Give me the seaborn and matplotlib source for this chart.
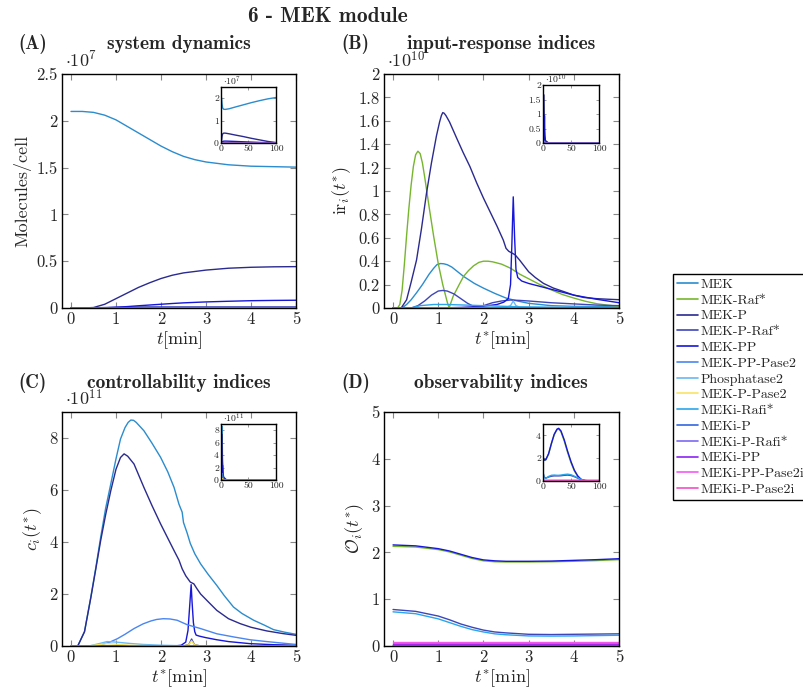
import os
import matplotlib
matplotlib.use("Agg")
import matplotlib.pyplot as plt
import pandas as pd
import seaborn as sns
from matplotlib.lines import Line2D
from matplotlib.ticker import FuncFormatter
from matplotlib.font_manager import FontProperties

# ---------------------------------------------------------------- species
species = ["MEK", "MEK-Raf*", "MEK-P", "MEK-P-Raf*", "MEK-PP", "MEK-PP-Pase2",
           "Phosphatase2", "MEK-P-Pase2", "MEKi-Rafi*", "MEKi-P", "MEKi-P-Rafi*",
           "MEKi-PP", "MEKi-PP-Pase2i", "MEKi-P-Pase2i"]
colors = ["#2b8cce", "#77b52e", "#2a2a8f", "#3d46b8", "#1717d9", "#4a86f0",
          "#6ab8f2", "#f7e463", "#2aa5ea", "#3366dd", "#7a6af0",
          "#8b22f2", "#f55af5", "#f24fc4"]

# series that stay at zero over a window
flat_t = [0, 5]
flat_zero = [0.0, 0.0]
inset_flat_t = [0, 100]
tail_t = [10, 100]
tail_zero = [0.0, 0.0]

# ------------------------------------------- (A) system dynamics, x 1e7
a_t = [0, 0.25, 0.5, 0.75, 1, 1.25, 1.5, 1.75, 2, 2.25, 2.5, 2.75, 3, 3.5, 4, 4.5, 5]
a_mek = [2.10, 2.10, 2.09, 2.06, 2.01, 1.94, 1.87, 1.80, 1.73, 1.67, 1.62, 1.585,
         1.56, 1.53, 1.515, 1.51, 1.505]
a_mek_p = [0, 0, 0.005, 0.04, 0.10, 0.16, 0.22, 0.27, 0.315, 0.35, 0.375, 0.39,
           0.405, 0.425, 0.435, 0.44, 0.442]
a_mek_pp = [0, 0, 0, 0.002, 0.008, 0.015, 0.024, 0.032, 0.04, 0.048, 0.055, 0.06,
            0.065, 0.072, 0.078, 0.081, 0.083]
a_mek_p_raf = [0, 0, 0.002, 0.005, 0.008, 0.010, 0.011, 0.012, 0.012, 0.012, 0.012,
               0.012, 0.012, 0.012, 0.012, 0.012, 0.012]

ai_t = [0, 1, 2, 3, 5, 8, 15, 25, 40, 55, 70, 85, 100]
ai_mek = [2.10, 2.01, 1.73, 1.56, 1.505, 1.50, 1.53, 1.60, 1.70, 1.80, 1.89, 1.97, 2.03]
ai_mek_p = [0, 0.10, 0.315, 0.405, 0.442, 0.44, 0.41, 0.36, 0.29, 0.21, 0.14, 0.07, 0.02]
ai_mek_pp = [0, 0.008, 0.04, 0.065, 0.083, 0.085, 0.08, 0.07, 0.055, 0.04, 0.025, 0.015, 0.005]

# ------------------------------------ (B) input-response indices, x 1e10
b_raf_t = [0, 0.1, 0.15, 0.2, 0.25, 0.3, 0.35, 0.4, 0.45, 0.5, 0.55, 0.6, 0.65, 0.7,
           0.8, 0.9, 1.0, 1.1, 1.2, 1.24, 1.33, 1.45, 1.56, 1.67, 1.78, 1.9, 2.0, 2.1,
           2.2, 2.4, 2.6, 2.8, 3.0, 3.25, 3.5, 3.75, 4.0, 4.25, 4.5, 4.75, 5.0]
b_raf = [0, 0, 0.03, 0.15, 0.37, 0.62, 0.85, 1.05, 1.21, 1.31, 1.34, 1.32, 1.24, 1.12,
         0.86, 0.61, 0.38, 0.20, 0.05, 0.0, 0.10, 0.19, 0.27, 0.32, 0.36, 0.39, 0.40,
         0.40, 0.395, 0.375, 0.34, 0.29, 0.25, 0.20, 0.155, 0.115, 0.085, 0.058,
         0.037, 0.024, 0.014]
b_mek_p_t = [0, 0.18, 0.3, 0.4, 0.52, 0.63, 0.74, 0.85, 0.96, 1.03, 1.07, 1.1, 1.13,
             1.17, 1.25, 1.33, 1.41, 1.55, 1.7, 1.85, 2.0, 2.15, 2.3, 2.44, 2.5, 2.56,
             2.63, 2.7, 2.8, 2.9, 3.0, 3.15, 3.33, 3.55, 3.78, 4.0, 4.22, 4.5, 4.75, 5.0]
b_mek_p = [0, 0, 0.07, 0.22, 0.41, 0.68, 0.98, 1.24, 1.47, 1.59, 1.645, 1.67, 1.665,
           1.645, 1.59, 1.52, 1.45, 1.33, 1.21, 1.07, 0.94, 0.82, 0.70, 0.58, 0.51,
           0.485, 0.47, 0.455, 0.41, 0.36, 0.31, 0.26, 0.21, 0.17, 0.14, 0.11, 0.09,
           0.08, 0.075, 0.071]
b_mek_pp_t = [0, 1.0, 1.5, 2.0, 2.3, 2.45, 2.55, 2.6, 2.63, 2.66, 2.69, 2.72, 2.76,
              2.85, 3.0, 3.2, 3.4, 3.7, 4.0, 4.5, 5.0]
b_mek_pp = [0, 0, 0.005, 0.015, 0.03, 0.05, 0.08, 0.2, 0.55, 0.95, 0.6, 0.33, 0.26,
            0.23, 0.21, 0.19, 0.17, 0.14, 0.11, 0.075, 0.045]
b_mek_t = [0, 0.2, 0.3, 0.4, 0.52, 0.65, 0.8, 0.9, 0.97, 1.05, 1.12, 1.2, 1.3, 1.43,
           1.56, 1.8, 2.0, 2.25, 2.5, 2.75, 3.0, 3.5, 4.0, 5.0]
b_mek = [0, 0, 0.03, 0.07, 0.13, 0.2, 0.29, 0.34, 0.37, 0.38, 0.378, 0.37, 0.35,
         0.31, 0.27, 0.21, 0.17, 0.125, 0.085, 0.06, 0.04, 0.02, 0.014, 0.01]
b_mek_p_raf_t = [0, 0.4, 0.55, 0.7, 0.85, 1.0, 1.1, 1.2, 1.35, 1.5, 1.65, 1.8, 1.88,
                 2.0, 2.2, 2.4, 2.6, 2.8, 3.0, 3.5, 4.0, 4.5, 5.0]
b_mek_p_raf = [0, 0, 0.02, 0.06, 0.11, 0.145, 0.15, 0.145, 0.12, 0.08, 0.04, 0.01,
               0.0, 0.02, 0.045, 0.06, 0.068, 0.065, 0.06, 0.045, 0.035, 0.025, 0.02]
b_rafi_t = [0, 0.4, 0.6, 0.9, 1.2, 1.6, 2.0, 2.4, 2.8, 3.5, 5.0]
b_rafi = [0, 0, 0.02, 0.03, 0.03, 0.025, 0.02, 0.015, 0.01, 0.005, 0.003]
b_pase_t = [0, 2.5, 2.6, 2.66, 2.72, 2.8, 5.0]
b_pase = [0, 0.005, 0.02, 0.06, 0.02, 0.008, 0.003]

# ----------------------------------- (C) controllability indices, x 1e11
c_mek_t = [0, 0.15, 0.3, 0.44, 0.55, 0.66, 0.77, 0.885, 1.0, 1.1, 1.2, 1.27, 1.33,
           1.39, 1.45, 1.62, 1.8, 1.99, 2.15, 2.29, 2.4, 2.47, 2.5, 2.58, 2.65, 2.75,
           2.88, 3.05, 3.24, 3.4, 3.61, 3.8, 4.06, 4.3, 4.5, 4.75, 5.0]
c_mek = [0, 0, 0.55, 1.88, 3.0, 4.19, 5.3, 6.24, 7.2, 7.96, 8.4, 8.6, 8.69, 8.68, 8.6,
         8.28, 7.8, 7.26, 6.7, 6.1, 5.45, 5.15, 4.75, 4.35, 3.95, 3.55, 3.16, 2.75,
         2.33, 1.95, 1.5, 1.25, 0.99, 0.8, 0.63, 0.53, 0.45]
c_mek_p_t = [0, 0.15, 0.3, 0.44, 0.55, 0.66, 0.77, 0.885, 1.0, 1.1, 1.18, 1.26, 1.4,
             1.62, 1.8, 1.99, 2.15, 2.29, 2.4, 2.47, 2.55, 2.65, 2.73, 2.8, 2.88, 3.05,
             3.24, 3.5, 3.76, 4.0, 4.35, 4.7, 5.0]
c_mek_p = [0, 0, 0.55, 1.85, 2.95, 4.06, 5.05, 5.98, 6.8, 7.25, 7.39, 7.3, 7.0, 6.1,
           5.4, 4.7, 4.15, 3.67, 3.3, 2.97, 2.7, 2.46, 2.39, 2.2, 2.0, 1.7, 1.37, 1.05,
           0.86, 0.72, 0.58, 0.48, 0.41]
c_mek_pp_t = [0, 2.3, 2.45, 2.55, 2.6, 2.64, 2.67, 2.69, 2.72, 2.75, 2.78, 2.85, 3.0,
              3.24, 3.5, 3.98, 4.5, 5.0]
c_mek_pp = [0, 0, 0.03, 0.15, 0.6, 1.6, 2.36, 1.7, 0.9, 0.55, 0.42, 0.38, 0.32, 0.24,
            0.17, 0.09, 0.05, 0.03]
c_pp_pase_t = [0, 0.5, 0.66, 0.85, 1.03, 1.2, 1.4, 1.6, 1.77, 1.9, 2.05, 2.2, 2.36,
               2.58, 2.88, 3.24, 3.61, 3.98, 4.35, 4.7, 5.0]
c_pp_pase = [0, 0, 0.05, 0.14, 0.28, 0.45, 0.67, 0.85, 0.96, 1.02, 1.05, 1.04, 0.99,
             0.82, 0.67, 0.47, 0.35, 0.24, 0.17, 0.11, 0.06]
c_pase_t = [0, 0.4, 0.6, 0.8, 1.0, 1.3, 1.6, 2.0, 2.5, 5.0]
c_pase = [0, 0, 0.08, 0.17, 0.15, 0.1, 0.06, 0.03, 0.01, 0]
c_p_pase_t = [0, 0.4, 0.6, 0.8, 1.0, 1.3, 1.8, 2.5, 2.62, 2.68, 2.74, 2.85, 5.0]
c_p_pase = [0, 0, 0.05, 0.09, 0.07, 0.03, 0.01, 0.0, 0.05, 0.2, 0.05, 0.01, 0]
c_p_raf_t = [0, 2.5, 2.62, 2.68, 2.74, 2.85, 5.0]
c_p_raf = [0, 0.0, 0.06, 0.27, 0.06, 0.01, 0]

# ------------------------------------- (D) observability indices
d_t = [0, 0.5, 1, 1.25, 1.5, 1.75, 2, 2.25, 2.5, 3, 3.5, 4, 4.5, 5]
d_mek_pp = [2.16, 2.14, 2.08, 2.03, 1.96, 1.89, 1.84, 1.82, 1.81, 1.81, 1.815, 1.83,
            1.845, 1.865]
d_raf = [2.13, 2.115, 2.06, 2.01, 1.94, 1.87, 1.82, 1.80, 1.795, 1.795, 1.80, 1.81,
         1.825, 1.845]
d_p_raf = [0.78, 0.74, 0.64, 0.56, 0.47, 0.40, 0.34, 0.30, 0.28, 0.25, 0.245, 0.25,
           0.255, 0.26]
d_rafi = [0.73, 0.69, 0.58, 0.50, 0.42, 0.35, 0.30, 0.26, 0.24, 0.215, 0.212, 0.215,
          0.222, 0.23]
d_mek = [0.012, 0.012, 0.011, 0.011, 0.010, 0.010, 0.010, 0.010, 0.010, 0.010, 0.010,
         0.010, 0.010, 0.010]
d_level_pp_pase = [0.075, 0.075]
d_level_p_pase = [0.065, 0.065]
d_level_pp = [0.05, 0.05]
d_level_p_rafi = [0.04, 0.04]

di_t = [0, 2, 5, 10, 15, 20, 25, 28, 32, 38, 44, 50, 56, 62, 68, 75, 85, 100]
di_mek_pp = [2.16, 1.84, 1.87, 2.4, 3.3, 4.1, 4.55, 4.62, 4.4, 3.6, 2.6, 1.7, 0.95,
             0.45, 0.15, 0.03, 0.0, 0.0]
di_raf = [2.13, 1.80, 1.845, 2.35, 3.25, 4.05, 4.5, 4.56, 4.33, 3.5, 2.5, 1.6, 0.88,
          0.40, 0.12, 0.02, 0.0, 0.0]
di_p_raf = [0.78, 0.34, 0.26, 0.35, 0.42, 0.45, 0.45, 0.45, 0.46, 0.50, 0.52, 0.48,
            0.38, 0.25, 0.12, 0.04, 0.0, 0.0]
di_rafi = [0.73, 0.30, 0.23, 0.40, 0.50, 0.52, 0.50, 0.50, 0.52, 0.57, 0.60, 0.55,
           0.42, 0.28, 0.14, 0.05, 0.0, 0.0]

# ------------------------------------------------------------ assemble
def zeros_for(names, t, z):
    return {n: (t, z) for n in names}


panel_a = zeros_for(species, flat_t, flat_zero)
panel_a.update({"MEK": (a_t, a_mek), "MEK-P": (a_t, a_mek_p),
                "MEK-PP": (a_t, a_mek_pp), "MEK-P-Raf*": (a_t, a_mek_p_raf)})
inset_a = zeros_for(species, inset_flat_t, flat_zero)
inset_a.update({"MEK": (ai_t, ai_mek), "MEK-P": (ai_t, ai_mek_p),
                "MEK-PP": (ai_t, ai_mek_pp)})

panel_b = zeros_for(species, flat_t, flat_zero)
panel_b.update({"MEK": (b_mek_t, b_mek), "MEK-Raf*": (b_raf_t, b_raf),
                "MEK-P": (b_mek_p_t, b_mek_p), "MEK-P-Raf*": (b_mek_p_raf_t, b_mek_p_raf),
                "MEK-PP": (b_mek_pp_t, b_mek_pp), "Phosphatase2": (b_pase_t, b_pase),
                "MEKi-Rafi*": (b_rafi_t, b_rafi)})

panel_c = zeros_for(species, flat_t, flat_zero)
panel_c.update({"MEK": (c_mek_t, c_mek), "MEK-P": (c_mek_p_t, c_mek_p),
                "MEK-P-Raf*": (c_p_raf_t, c_p_raf), "MEK-PP": (c_mek_pp_t, c_mek_pp),
                "MEK-PP-Pase2": (c_pp_pase_t, c_pp_pase),
                "Phosphatase2": (c_pase_t, c_pase), "MEK-P-Pase2": (c_p_pase_t, c_p_pase)})

panel_d = zeros_for(species, flat_t, flat_zero)
panel_d.update({"MEK": (d_t, d_mek), "MEK-Raf*": (d_t, d_raf),
                "MEK-P-Raf*": (d_t, d_p_raf), "MEK-PP": (d_t, d_mek_pp),
                "MEKi-Rafi*": (d_t, d_rafi),
                "MEKi-P-Rafi*": (flat_t, d_level_p_rafi), "MEKi-PP": (flat_t, d_level_pp),
                "MEKi-PP-Pase2i": (flat_t, d_level_pp_pase),
                "MEKi-P-Pase2i": (flat_t, d_level_p_pase)})
inset_d = zeros_for(species, inset_flat_t, flat_zero)
inset_d.update({"MEK-Raf*": (di_t, di_raf), "MEK-P-Raf*": (di_t, di_p_raf),
                "MEK-PP": (di_t, di_mek_pp), "MEKi-Rafi*": (di_t, di_rafi),
                "MEKi-P-Rafi*": (inset_flat_t, d_level_p_rafi),
                "MEKi-PP": (inset_flat_t, d_level_pp),
                "MEKi-PP-Pase2i": (inset_flat_t, d_level_pp_pase),
                "MEKi-P-Pase2i": (inset_flat_t, d_level_p_pase)})


def with_tail(panel):
    """Extend each 0-5 min series out to 100 min, where the indices have decayed."""
    return {n: (list(t) + tail_t, list(y) + tail_zero) for n, (t, y) in panel.items()}


inset_b = with_tail(panel_b)
inset_c = with_tail(panel_c)

# -------------------------------------------------------------- styling
sns.set_theme(style="ticks")
plt.rcParams.update({
    "font.family": ["cmr10", "DejaVu Serif"],
    "mathtext.fontset": "cm",
    "axes.formatter.use_mathtext": True,
    "axes.unicode_minus": False,
    "axes.edgecolor": "black",
    "axes.linewidth": 1.0,
    "axes.facecolor": "white",
    "figure.facecolor": "white",
})
palette = dict(zip(species, colors))

ttf_dir = os.path.join(matplotlib.get_data_path(), "fonts", "ttf")
bold_path = os.path.join(ttf_dir, "cmb10.ttf")


def bold(size):
    if os.path.exists(bold_path):
        return FontProperties(fname=bold_path, size=size)
    return FontProperties(family="DejaVu Serif", weight="bold", size=size)


W, H = 804, 690
fig = plt.figure(figsize=(W / 100, H / 100), dpi=100)


def box(x0, y0, x1, y1):
    return [x0 / W, 1 - y1 / H, (x1 - x0) / W, (y1 - y0) / H]


def draw(ax, panel, lw):
    rows = []
    for name, (t, y) in panel.items():
        rows += [(name, a, b) for a, b in zip(t, y)]
    df = pd.DataFrame(rows, columns=["series", "t", "v"])
    sns.lineplot(data=df, x="t", y="v", hue="series", hue_order=species,
                 palette=palette, estimator=None, sort=False, legend=False,
                 linewidth=lw, ax=ax)
    ax.set_xlabel("")
    ax.set_ylabel("")


fmt = FuncFormatter(lambda v, p: f"{v:g}")


def style_main(ax, yticks, ylim):
    ax.set_xlim(-0.2, 5)
    ax.set_ylim(*ylim)
    ax.set_xticks([0, 1, 2, 3, 4, 5])
    ax.set_yticks(yticks)
    ax.xaxis.set_major_formatter(fmt)
    ax.yaxis.set_major_formatter(fmt)
    ax.tick_params(direction="in", top=True, right=True, length=4, width=0.8,
                   color="#888888", labelsize=12, pad=3)
    for s in ax.spines.values():
        s.set_color("black")
        s.set_linewidth(1.0)


def style_inset(ax, yticks, ylim):
    ax.set_xlim(0, 100)
    ax.set_ylim(*ylim)
    ax.set_xticks([0, 50, 100])
    ax.set_yticks(yticks)
    ax.xaxis.set_major_formatter(fmt)
    ax.yaxis.set_major_formatter(fmt)
    ax.tick_params(direction="in", top=True, right=True, length=2, width=0.6,
                   color="#888888", labelsize=7, pad=1.5)
    for s in ax.spines.values():
        s.set_color("black")
        s.set_linewidth(1.0)


axA = fig.add_axes(box(62, 74, 296, 308))
axB = fig.add_axes(box(384, 74, 619, 308))
axC = fig.add_axes(box(62, 412, 296, 646))
axD = fig.add_axes(box(384, 412, 619, 646))
inA = fig.add_axes(box(221, 87, 276, 143))
inB = fig.add_axes(box(543, 85, 599, 143))
inC = fig.add_axes(box(221, 424, 276, 480))
inD = fig.add_axes(box(543, 424, 599, 481))

draw(axA, panel_a, 1.0)
draw(axB, panel_b, 1.0)
draw(axC, panel_c, 1.0)
draw(axD, panel_d, 1.0)
draw(inA, inset_a, 1.0)
draw(inB, inset_b, 1.0)
draw(inC, inset_c, 1.0)
draw(inD, inset_d, 1.0)

style_main(axA, [0, 0.5, 1, 1.5, 2, 2.5], (0, 2.5))
style_main(axB, [0, 0.2, 0.4, 0.6, 0.8, 1, 1.2, 1.4, 1.6, 1.8, 2], (0, 2))
style_main(axC, [0, 2, 4, 6, 8], (0, 9))
style_main(axD, [0, 1, 2, 3, 4, 5], (0, 5))
style_inset(inA, [0, 1, 2], (0, 2.5))
style_inset(inB, [0, 0.5, 1, 1.5, 2], (0, 2))
style_inset(inC, [0, 2, 4, 6, 8], (0, 9))
style_inset(inD, [0, 2, 4], (0, 5))

axA.set_ylabel("Molecules/cell", fontsize=13)
axB.set_ylabel(r"$\mathrm{ir}_i(t^{*})$", fontsize=13)
axC.set_ylabel(r"$c_i(t^{*})$", fontsize=13)
axD.set_ylabel(r"$\mathcal{O}_i(t^{*})$", fontsize=13)
axA.set_xlabel(r"$t$[min]", fontsize=13, labelpad=1)
for ax in (axB, axC, axD):
    ax.set_xlabel(r"$t^{*}$[min]", fontsize=13, labelpad=1)

# scale factors of the y axes
fig.text(65 / W, 1 - 60 / H, r"$\cdot10^{7}$", fontsize=13, va="center")
fig.text(387 / W, 1 - 60 / H, r"$\cdot10^{10}$", fontsize=13, va="center")
fig.text(65 / W, 1 - 398 / H, r"$\cdot10^{11}$", fontsize=13, va="center")
fig.text(223 / W, 1 - 81 / H, r"$\cdot10^{7}$", fontsize=7, va="center")
fig.text(545 / W, 1 - 79 / H, r"$\cdot10^{10}$", fontsize=7, va="center")
fig.text(223 / W, 1 - 418 / H, r"$\cdot10^{11}$", fontsize=7, va="center")

# titles
fig.text(328 / W, 1 - 17 / H, "6 - MEK module", fontproperties=bold(15.5),
         ha="center", va="center")
panel_titles = [("(A)", "system dynamics", 18, 179, 44),
                ("(B)", "input-response indices", 341, 501, 44),
                ("(C)", "controllability indices", 18, 179, 383),
                ("(D)", "observability indices", 341, 501, 383)]
for tag, title, xt, xc, yc in panel_titles:
    fig.text(xt / W, 1 - yc / H, tag, fontproperties=bold(13.5), ha="left", va="center")
    fig.text(xc / W, 1 - yc / H, title, fontproperties=bold(14), ha="center",
             va="center")

# legend
handles = [Line2D([], [], color=c, lw=1.2) for c in colors]
fig.legend(handles, species, loc="upper left", bbox_to_anchor=(673 / W, 1 - 274 / H),
           bbox_transform=fig.transFigure, frameon=True, fancybox=False,
           edgecolor="black", framealpha=1, fontsize=10, labelspacing=0.22,
           handlelength=1.5, handletextpad=0.15, borderpad=0.3, borderaxespad=0)

fig.savefig("out.png", dpi=100)
